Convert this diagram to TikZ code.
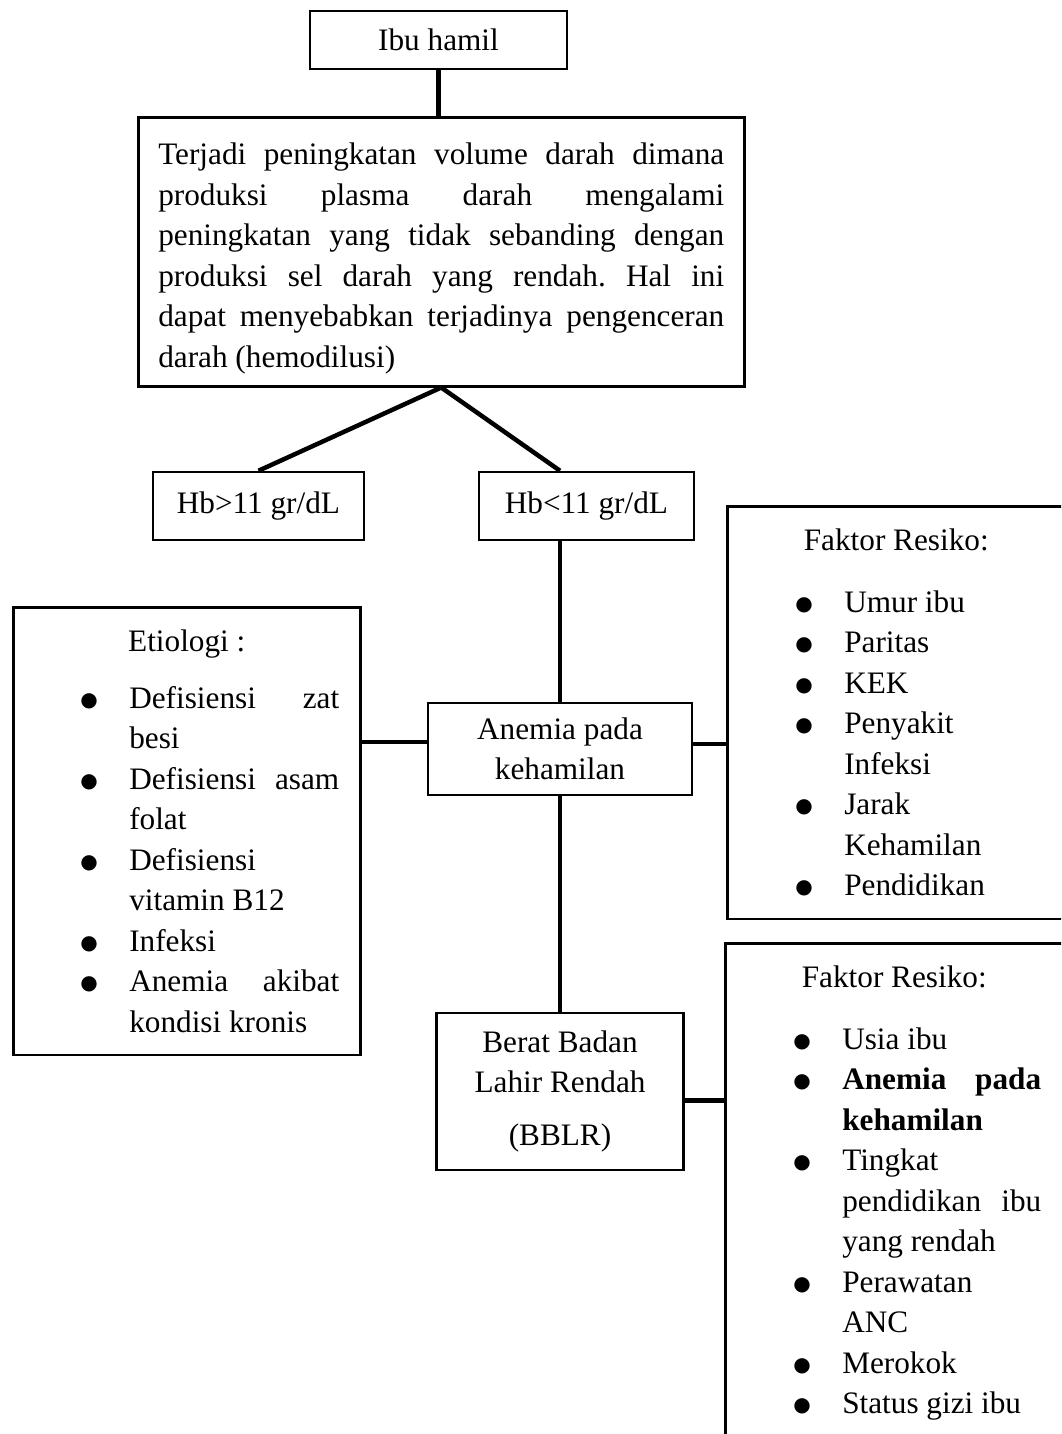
\documentclass[tikz,border=0pt]{standalone}
\usepackage{fontspec}
\setmainfont{Liberation Serif}
\newfontfamily\simbol{DejaVu Sans}
\tolerance=10000
\hyphenpenalty=10000
\frenchspacing
\newcommand{\butir}[1]{\par\noindent\hangindent=38pt\hangafter=1\makebox[38pt][l]{\hspace{18.4pt}\raisebox{0.7pt}{\simbol\fontsize{8}{8}\selectfont ●}}#1\par}

\begin{document}
\begin{tikzpicture}[x=0.4pt,y=-0.4pt,
    kotak/.style={draw,line width=1pt,inner sep=0pt,font=\fontsize{12.5}{16.2}\selectfont},
    daftar/.style={kotak,anchor=north west,align=justify,inner ysep=9pt},
    garis/.style={line width=1.8pt,line join=round}]
    \path[use as bounding box,clip](0,0)rectangle(1061,1434);

    \node[kotak,minimum width=102.8pt,minimum height=23.2pt](ibu)at(438.5,40){Ibu hamil};
    \node[kotak,anchor=north west,minimum width=242.4pt,minimum height=107.6pt,text width=226.4pt,align=justify](proses)at(137,116){\rule{0pt}{14.2pt}Terjadi peningkatan volume darah dimana\linebreak produksi plasma darah mengalami\linebreak peningkatan yang tidak sebanding dengan\linebreak produksi sel darah yang rendah. Hal ini\linebreak dapat menyebabkan terjadinya pengenceran\linebreak darah (hemodilusi)};
    \node[kotak,minimum width=84.4pt,minimum height=27.2pt](hbatas)at(258.5,506){Hb>11 gr/dL};
    \node[kotak,minimum width=86pt,minimum height=27.2pt](hbbawah)at(586.5,506){Hb<11 gr/dL};
    \node[kotak,minimum width=105.6pt,minimum height=36.8pt,align=center](anemia)at(560,749){Anemia pada\\kehamilan};
    \node[kotak,minimum width=98.8pt,minimum height=62.8pt,align=center](bblr)at(560,1091.5){Berat Badan\\Lahir Rendah\\[5pt](BBLR)};

    \node[daftar,text width=122pt,inner xsep=8.4pt](etiologi)at(12,606){{\centering Etiologi :\par}\vspace{6.5pt}
        \butir{Defisiensi zat\linebreak besi}
        \butir{Defisiensi asam\linebreak folat}
        \butir{Defisiensi\\vitamin B12}
        \butir{Infeksi}
        \butir{Anemia akibat\linebreak kondisi kronis}};
    \node[daftar,text width=117.6pt,inner xsep=8.8pt](faktor1)at(726,505){{\centering Faktor Resiko:\par}\vspace{8.5pt}
        \butir{Umur ibu}
        \butir{Paritas}
        \butir{KEK}
        \butir{Penyakit\\Infeksi}
        \butir{Jarak\\Kehamilan}
        \butir{Pendidikan}};
    \node[daftar,text width=117.6pt,inner xsep=8.8pt](faktor2)at(724,942){{\centering Faktor Resiko:\par}\vspace{8.5pt}
        \butir{Usia ibu}
        \butir{\textbf{Anemia pada\linebreak kehamilan}}
        \butir{Tingkat\\pendidikan ibu\linebreak yang rendah}
        \butir{Perawatan\\ANC}
        \butir{Merokok}
        \butir{Status gizi ibu\rule[-40pt]{0pt}{0pt}}};

    \coordinate(akiri)at([yshift=2.8pt]anemia.west);
    \coordinate(akanan)at([yshift=2pt]anemia.east);
    \coordinate(bkanan)at([yshift=-3.6pt]bblr.east);

    \draw[garis](ibu.south)--(ibu.south|-proses.north);
    \draw[garis](hbatas.north)--(proses.south)--(hbbawah.north-|anemia.north);
    \draw[garis](hbbawah.south-|anemia.north)--(anemia.north);
    \draw[garis](etiologi.east|-akiri)--(akiri);
    \draw[garis](akanan)--(akanan-|faktor1.west);
    \draw[garis](anemia.south)--(bblr.north);
    \draw[garis](bkanan)--(bkanan-|faktor2.west);
\end{tikzpicture}
\end{document}
